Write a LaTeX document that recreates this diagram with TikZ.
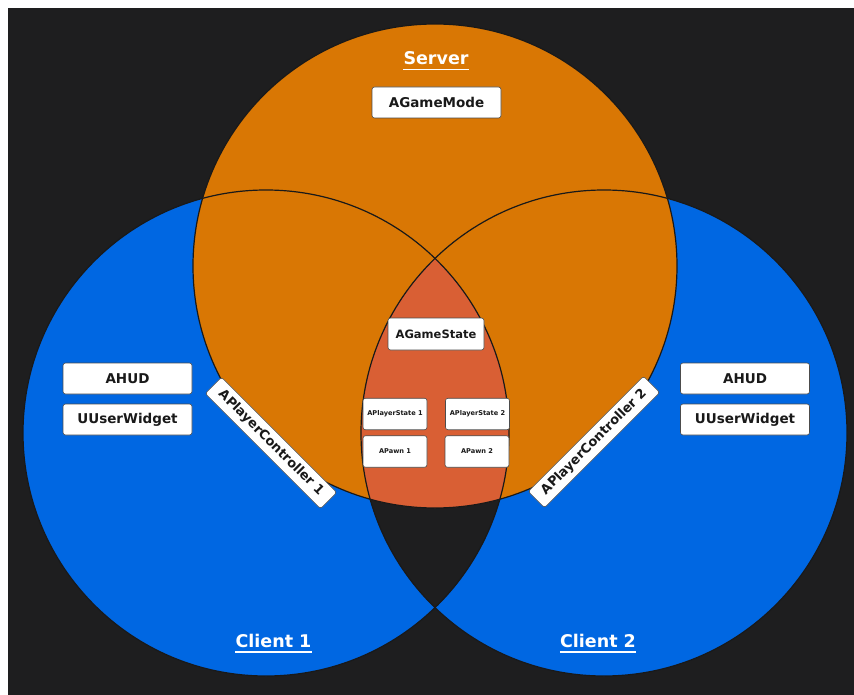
\documentclass[tikz,border=0pt]{standalone}
\usepackage{fontspec}
\setmainfont{DejaVu Sans}
\definecolor{bgdark}{RGB}{30,30,31}
\definecolor{cblue}{RGB}{0,103,226}
\definecolor{sorange}{RGB}{217,119,4}
\definecolor{tred}{RGB}{217,95,52}
\begin{document}
\begin{tikzpicture}[x=1pt,y=-1pt,
  outline/.style={draw=black!90, line width=1.2pt},
  box/.style={draw=black!70, line width=0.6pt, fill=white, rounded corners=2.5pt,
    font=\bfseries\fontsize{13.5}{15}\selectfont, text=black!90, inner sep=0pt,
    minimum width=129pt, minimum height=31pt},
  sbox/.style={box, font=\bfseries\fontsize{6.6}{8}\selectfont, minimum width=64pt, minimum height=31.5pt},
  pcbox/.style={box, font=\bfseries\fontsize{13}{15}\selectfont, minimum width=163pt, minimum height=23pt},
  title/.style={text=white, font=\bfseries\fontsize{17.5}{20}\selectfont, inner sep=0pt, anchor=base},
  uline/.style={draw=white, line width=1.8pt}]
\useasboundingbox (0,0) rectangle (854,695);
\fill[white] (0,0) rectangle (854,695);
\fill[bgdark] (8,8) rectangle (854,695);
\coordinate (S) at (435,266);
\coordinate (C1) at (266,433);
\coordinate (C2) at (604,433);
% fills
\fill[cblue] (C1) circle[radius=243pt];
\fill[cblue] (C2) circle[radius=243pt];
\begin{scope}
  \clip (C1) circle[radius=243pt];
  \fill[bgdark] (C2) circle[radius=243pt];
\end{scope}
\fill[sorange] (S) circle[radius=242pt];
\begin{scope}
  \clip (C1) circle[radius=243pt];
  \clip (C2) circle[radius=243pt];
  \fill[tred] (S) circle[radius=242pt];
\end{scope}
% outlines
\draw[outline] (C1) circle[radius=243pt];
\draw[outline] (C2) circle[radius=243pt];
\draw[outline] (S) circle[radius=242pt];
% titles
\node[title] (srv) at (436,65) {Server};
\draw[uline] ([yshift=-4.5pt]srv.base west) -- ([yshift=-4.5pt]srv.base east);
\node[title] (cl1) at (273.5,647) {Client 1};
\draw[uline] ([yshift=-5pt]cl1.base west) -- ([yshift=-5pt]cl1.base east);
\node[title] (cl2) at (598,647) {Client 2};
\draw[uline] ([yshift=-5pt]cl2.base west) -- ([yshift=-5pt]cl2.base east);
% boxes
\node[box] (gm) at (436.5,102.5) {AGameMode};
\node[box, font=\bfseries\fontsize{11.5}{13}\selectfont, minimum width=96pt, minimum height=32pt] (gs) at (436,334) {AGameState};
\node[sbox] (ps1) at (395,414) {APlayerState 1};
\node[sbox] (ps2) at (477.5,414) {APlayerState 2};
\node[sbox] (pw1) at (395,451.5) {APawn 1};
\node[sbox] (pw2) at (477,451.5) {APawn 2};
\node[box] (hud1) at (127.5,378.5) {AHUD};
\node[box] (uw1) at (127.5,419.5) {UUserWidget};
\node[box] (hud2) at (745,378.5) {AHUD};
\node[box] (uw2) at (745,419.5) {UUserWidget};
\node[pcbox, rotate=-45] (pc1) at (271,443) {APlayerController 1};
\node[pcbox, rotate=45] (pc2) at (594,442) {APlayerController 2};
\end{tikzpicture}
\end{document}
